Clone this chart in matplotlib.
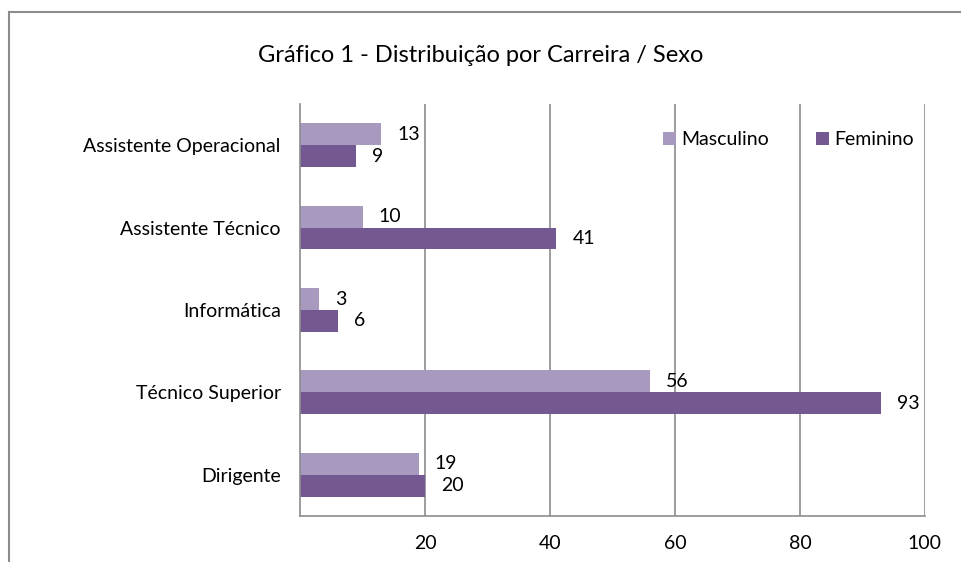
import numpy as np
import matplotlib.pyplot as plt
from matplotlib.patches import Rectangle

plt.rcParams['font.family'] = ['Lato', 'DejaVu Sans']

categorias = ['Dirigente', 'Técnico Superior', 'Informática', 'Assistente Técnico', 'Assistente Operacional']
masculino = [19, 56, 3, 10, 13]
feminino = [20, 93, 6, 41, 9]
xticks = [20, 40, 60, 80, 100]

cor_masc = '#A899BE'
cor_fem = '#735891'
cinza = '#8C8C8C'
fs = 14

fig = plt.figure(figsize=(9.62, 5.62), dpi=100)
ax = fig.add_axes([0.312, 0.082, 0.6495, 0.733])

y = np.arange(len(categorias))
h = 0.265
bm = ax.barh(y + h / 2, masculino, height=h, color=cor_masc, label='Masculino')
bf = ax.barh(y - h / 2, feminino, height=h, color=cor_fem, label='Feminino')

for barras in (bm, bf):
    for b in barras:
        w = b.get_width()
        ax.annotate(str(int(w)), (w, b.get_y() + b.get_height() / 2),
                    xytext=(11.5, 0), textcoords='offset points',
                    ha='left', va='center', fontsize=fs)

ax.set_xlim(0, 100)
ax.set_ylim(-0.5, len(categorias) - 0.5)
ax.set_xticks(xticks)
ax.set_xticklabels([str(v) for v in xticks], fontsize=fs)
ax.set_yticks(y)
ax.set_yticklabels(categorias, fontsize=fs)
ax.tick_params(axis='y', length=0, pad=14)
ax.tick_params(axis='x', length=0, pad=14)

ax.grid(axis='x', color=cinza, linewidth=1.2)
ax.set_axisbelow(True)
for s in ('top', 'right'):
    ax.spines[s].set_visible(False)
for s in ('left', 'bottom'):
    ax.spines[s].set_color(cinza)
    ax.spines[s].set_linewidth(1.2)

ax.legend(loc='center right', bbox_to_anchor=(1.01, 0.913), ncol=2, frameon=False,
          fontsize=fs, handlelength=0.7, handleheight=0.7, handletextpad=0.25,
          columnspacing=2.4)

fig.text(0.5, 0.902, 'Gráfico 1 - Distribuição por Carreira / Sexo',
         ha='center', va='center', fontsize=17)

# moldura exterior (cortada à direita e em baixo)
fig.patches.append(Rectangle((9 / 962, -0.1), 1.2, 1.1 - 12 / 562,
                             transform=fig.transFigure, fill=False,
                             edgecolor=cinza, linewidth=1.5))

fig.savefig('out.png', dpi=100)
